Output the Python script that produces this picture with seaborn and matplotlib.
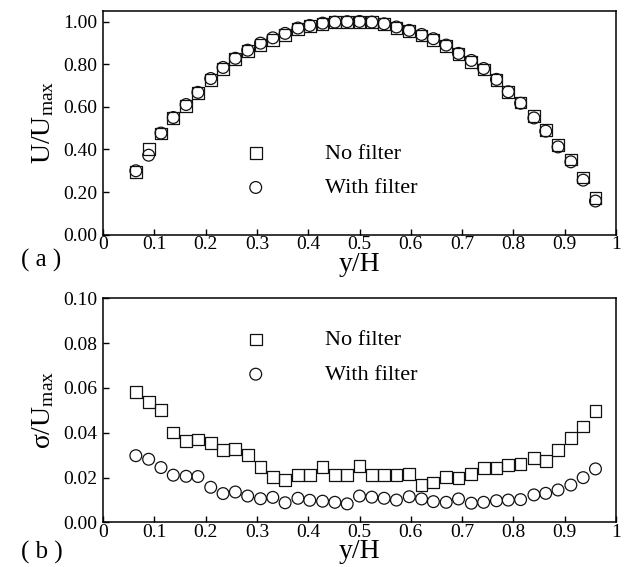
import numpy as np
import pandas as pd
import matplotlib
matplotlib.use("Agg")
import matplotlib.pyplot as plt
from matplotlib.ticker import FixedLocator, FuncFormatter
import seaborn as sns

# Measurement positions across the channel height
y_over_h = [0.064, 0.089, 0.113, 0.137, 0.162, 0.185, 0.210, 0.234, 0.258, 0.282,
            0.307, 0.331, 0.355, 0.380, 0.403, 0.428, 0.452, 0.476, 0.500, 0.524,
            0.548, 0.572, 0.597, 0.621, 0.644, 0.669, 0.693, 0.718, 0.742, 0.767,
            0.790, 0.814, 0.840, 0.863, 0.887, 0.912, 0.936, 0.960]

# (a) normalised mean velocity
u_no_filter = [0.296, 0.401, 0.475, 0.548, 0.603, 0.665, 0.725, 0.779, 0.824, 0.862,
               0.890, 0.915, 0.938, 0.965, 0.978, 0.990, 0.997, 1.000, 1.000, 0.998,
               0.988, 0.970, 0.955, 0.935, 0.915, 0.885, 0.847, 0.812, 0.775, 0.725,
               0.670, 0.620, 0.556, 0.490, 0.420, 0.353, 0.268, 0.173]
u_with_filter = [0.300, 0.373, 0.477, 0.550, 0.611, 0.668, 0.733, 0.785, 0.828, 0.866,
                 0.899, 0.924, 0.945, 0.970, 0.982, 0.993, 0.998, 1.000, 1.001, 0.998,
                 0.990, 0.975, 0.959, 0.940, 0.920, 0.890, 0.851, 0.818, 0.780, 0.729,
                 0.671, 0.617, 0.548, 0.486, 0.412, 0.342, 0.256, 0.158]

# (b) normalised standard deviation
s_no_filter = [0.0581, 0.0539, 0.0502, 0.0401, 0.0365, 0.0370, 0.0355, 0.0325, 0.0327, 0.0300,
               0.0248, 0.0203, 0.0188, 0.0212, 0.0212, 0.0248, 0.0213, 0.0211, 0.0251, 0.0211,
               0.0211, 0.0212, 0.0215, 0.0166, 0.0178, 0.0204, 0.0197, 0.0215, 0.0242, 0.0242,
               0.0255, 0.0260, 0.0287, 0.0276, 0.0324, 0.0376, 0.0428, 0.0499]
s_with_filter = [0.0298, 0.0282, 0.0245, 0.0211, 0.0206, 0.0205, 0.0157, 0.0129, 0.0136, 0.0118,
                 0.0106, 0.0112, 0.0088, 0.0108, 0.0099, 0.0095, 0.0090, 0.0083, 0.0118, 0.0113,
                 0.0108, 0.0100, 0.0115, 0.0105, 0.0093, 0.0090, 0.0105, 0.0086, 0.0090, 0.0097,
                 0.0100, 0.0102, 0.0123, 0.0130, 0.0145, 0.0167, 0.0200, 0.0239]

series_labels = ["No filter", "With filter"]
series_markers = ["s", "o"]
x_ticks = [0, 0.1, 0.2, 0.3, 0.4, 0.5, 0.6, 0.7, 0.8, 0.9, 1.0]
ticks_a = [0.0, 0.2, 0.4, 0.6, 0.8, 1.0]
ticks_b = [0.0, 0.02, 0.04, 0.06, 0.08, 0.10]

sns.set_theme(style="ticks")
plt.rcParams["font.family"] = ["Liberation Serif", "DejaVu Serif"]
plt.rcParams["mathtext.fontset"] = "custom"
plt.rcParams["mathtext.rm"] = "Liberation Serif"
plt.rcParams["mathtext.it"] = "Liberation Serif:italic"
plt.rcParams["axes.unicode_minus"] = False
plt.rcParams["text.color"] = "black"
plt.rcParams["axes.labelcolor"] = "black"
plt.rcParams["xtick.color"] = "black"
plt.rcParams["ytick.color"] = "black"

fig = plt.figure(figsize=(6.25, 5.67), dpi=100)
ax_a = fig.add_axes([0.1648, 0.5861, 0.8208, 0.3945])
ax_b = fig.add_axes([0.1648, 0.0785, 0.8208, 0.3954])


def draw_panel(ax, series, ylim, yticks, ylabel, legend_anchor):
    for values, label, marker in zip(series, series_labels, series_markers):
        df = pd.DataFrame({"y/H": y_over_h, "value": values})
        sns.scatterplot(data=df, x="y/H", y="value", marker=marker, s=72,
                        facecolors="none", edgecolor="#111111", linewidth=0.9,
                        label=label, ax=ax, zorder=3)
    ax.set_xlim(0, 1)
    ax.set_ylim(*ylim)
    ax.xaxis.set_major_locator(FixedLocator(x_ticks))
    ax.xaxis.set_major_formatter(FuncFormatter(lambda v, p: f"{v:g}"))
    ax.yaxis.set_major_locator(FixedLocator(yticks))
    ax.yaxis.set_major_formatter(FuncFormatter(lambda v, p: f"{v:.2f}"))
    ax.tick_params(axis="both", direction="in", length=4, width=1.0,
                   labelsize=14, colors="black")
    ax.tick_params(axis="x", pad=1)
    ax.tick_params(axis="y", pad=4)
    for sp in ax.spines.values():
        sp.set_visible(True)
        sp.set_linewidth(1.1)
        sp.set_color("black")
    ax.set_xlabel("y/H", fontsize=20, labelpad=-1, color="black")
    ax.set_ylabel(ylabel, fontsize=20, color="black")
    ax.yaxis.set_label_coords(-0.092, 0.5)
    leg = ax.legend(loc="upper left", bbox_to_anchor=legend_anchor,
                    frameon=False, fontsize=16, borderpad=0, borderaxespad=0,
                    handlelength=2.0, handletextpad=2.1, labelspacing=0.64,
                    labelcolor="black")
    for h in leg.legend_handles:
        h.set_sizes([72])
        h.set_facecolor("none")
        h.set_edgecolor("#111111")


draw_panel(ax_a, [u_no_filter, u_with_filter], (0, 1.05), ticks_a,
           r"U/U$_{\mathrm{max}}$", (0.2544, 0.41))
draw_panel(ax_b, [s_no_filter, s_with_filter], (0, 0.10), ticks_b,
           r"σ/U$_{\mathrm{max}}$", (0.2544, 0.86))

fig.text(21 / 625, 1 - 260 / 567, "( a )", fontsize=18, ha="left", va="center")
fig.text(21 / 625, 1 - 552 / 567, "( b )", fontsize=18, ha="left", va="center")

fig.savefig("out.png", dpi=100, facecolor="white")
